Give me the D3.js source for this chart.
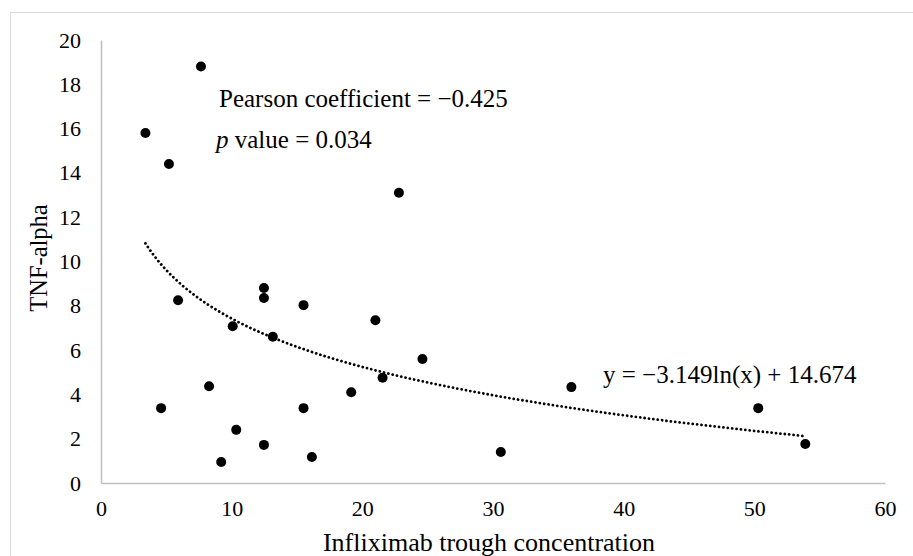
<!DOCTYPE html>
<html>
<head>
<meta charset="utf-8">
<script src="https://cdn.jsdelivr.net/npm/d3@7"></script>
<style>
  body { margin: 0; background: #fff; }
  svg text { font-family: "Liberation Serif", "DejaVu Serif", "Times New Roman", Times, serif !important; fill: #000; }
</style>
</head>
<body>
<div id="chart"></div>
<script>
// data
var concentration = [7.65, 3.4, 5.2, 22.8, 5.9, 12.47, 12.47, 15.5, 21.0, 10.08, 13.15, 24.6,
  21.55, 8.27, 19.15, 4.6, 15.5, 10.35, 12.47, 16.14, 9.2, 36.0, 50.3, 53.9, 30.6];
var tnfAlpha = [18.8, 15.8, 14.4, 13.1, 8.25, 8.8, 8.35, 8.03, 7.35, 7.08, 6.6, 5.6,
  4.75, 4.37, 4.1, 3.38, 3.38, 2.4, 1.72, 1.17, 0.95, 4.33, 3.38, 1.76, 1.4];
var xTicks = [0, 10, 20, 30, 40, 50, 60];
var yTicks = [0, 2, 4, 6, 8, 10, 12, 14, 16, 18, 20];
// logarithmic trendline shown on the chart: y = a ln(x) + b
var trendA = -3.149;
var trendB = 14.674;

var svgWidth = 913;
var svgHeight = 556;
var margin = { left: 101, top: 40, right: 28, bottom: 73 };

var svg = d3.select("#chart")
  .append("svg")
  .attr("width", svgWidth)
  .attr("height", svgHeight);

// light outer border of chart area
svg.append("rect")
  .attr("x", 10.5)
  .attr("y", 12.5)
  .attr("width", svgWidth)
  .attr("height", svgHeight)
  .attr("fill", "none")
  .attr("stroke", "#d9d9d9")
  .attr("stroke-width", 1);

var xScale = d3.scaleLinear()
  .domain([0, 60])
  .range([margin.left, svgWidth - margin.right]);

var yScale = d3.scaleLinear()
  .domain([0, 20])
  .range([svgHeight - margin.bottom, margin.top]);

// axes
var xAxis = d3.axisBottom(xScale).tickValues(xTicks).tickSize(0).tickPadding(17);
var yAxis = d3.axisLeft(yScale).tickValues(yTicks).tickSize(0).tickPadding(20);

var gx = svg.append("g")
  .attr("transform", "translate(0," + yScale(0) + ")")
  .call(xAxis);
var gy = svg.append("g")
  .attr("transform", "translate(" + xScale(0) + ",0)")
  .call(yAxis);

[gx, gy].forEach(function(g) {
  g.attr("font-family", null).attr("font-size", null);
  g.select(".domain").attr("stroke", "#bfbfbf").attr("stroke-width", 1.5);
  g.selectAll("text").style("font-size", "22px");
});

// trendline
var xs = d3.range(0, 101).map(function(i) {
  var lo = d3.min(concentration), hi = d3.max(concentration);
  return lo + (hi - lo) * i / 100;
});
var createLine = d3.line()
  .x(function(d) { return xScale(d); })
  .y(function(d) { return yScale(trendA * Math.log(d) + trendB); });

svg.append("path")
  .attr("d", createLine(xs))
  .attr("fill", "none")
  .attr("stroke", "#000")
  .attr("stroke-width", 2.8)
  .attr("stroke-linecap", "round")
  .attr("stroke-dasharray", "0.01 4.4");

// points
svg.selectAll("circle.pt")
  .data(concentration)
  .enter()
  .append("circle")
  .attr("class", "pt")
  .attr("cx", function(d) { return xScale(d); })
  .attr("cy", function(d, i) { return yScale(tnfAlpha[i]); })
  .attr("r", 5)
  .attr("fill", "#000");

// annotations
svg.append("text")
  .attr("x", 219)
  .attr("y", 107)
  .style("font-size", "25px")
  .text("Pearson coefficient = \u22120.425");

var pText = svg.append("text")
  .attr("x", 216)
  .attr("y", 148)
  .style("font-size", "25px");
pText.append("tspan").style("font-style", "italic").text("p");
pText.append("tspan").text(" value = 0.034");

svg.append("text")
  .attr("x", 603)
  .attr("y", 383)
  .style("font-size", "25px")
  .text("y = \u22123.149ln(x) + 14.674");

// axis titles
svg.append("text")
  .attr("x", 489)
  .attr("y", 551)
  .attr("text-anchor", "middle")
  .style("font-size", "26px")
  .text("Infliximab trough concentration");

svg.append("text")
  .attr("transform", "translate(47,258) rotate(-90)")
  .attr("text-anchor", "middle")
  .style("font-size", "24.5px")
  .text("TNF-alpha");
</script>
</body>
</html>
